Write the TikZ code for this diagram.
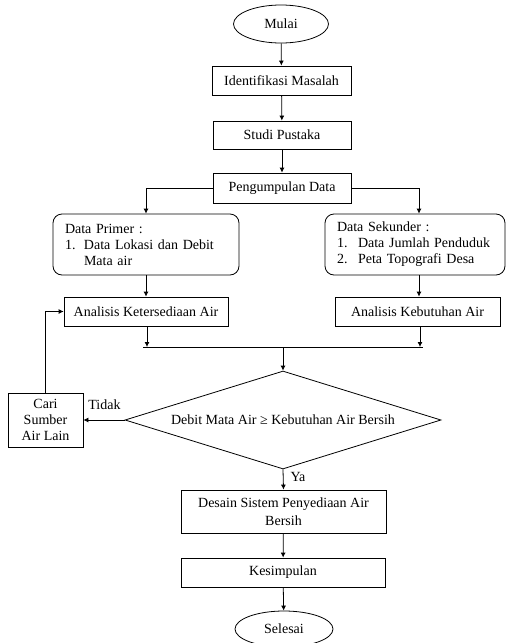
\documentclass[tikz,border=0pt]{standalone}
\usepackage{fontspec}
\setmainfont{Liberation Serif}
\usetikzlibrary{shapes.geometric,arrows.meta,calc}
\begin{document}
\begin{tikzpicture}[x=1pt,y=-1pt,
  every node/.style={font=\fontsize{14}{16}\selectfont},
  line/.style={line width=0.8pt},
  arr/.style={line width=0.8pt,-{Latex[length=5pt,width=5pt]}},
  box/.style={draw,line width=0.8pt,rectangle,inner sep=0pt,align=center},
  rbox/.style={draw,line width=0.8pt,rectangle,rounded corners=9pt,inner ysep=0pt,inner xsep=12pt,align=left,text width=162pt,minimum height=61pt},
  term/.style={draw,line width=0.8pt,ellipse,inner sep=0pt}
]
\useasboundingbox (0,0) rectangle (506,643);
\node[term,minimum width=95pt,minimum height=38pt] (mulai) at (281,24) {Mulai};
\node[box,minimum width=139pt,minimum height=29pt] (ident) at (281.5,80.5) {Identifikasi Masalah};
\node[box,minimum width=138pt,minimum height=28pt] (studi) at (282,135) {Studi Pustaka};
\node[box,minimum width=138pt,minimum height=30pt] (kumpul) at (282,188) {Pengumpulan Data};
\node[rbox] (primer) at (146,244.5) {Data Primer :\\\makebox[19pt][l]{1.}Data Lokasi dan Debit\\\hspace*{19pt}Mata air};
\node[rbox,text width=156pt] (sekunder) at (415,244.5) {Data Sekunder :\\\makebox[21pt][l]{1.}Data Jumlah Penduduk\\\makebox[21pt][l]{2.}Peta Topografi Desa};
\node[box,minimum width=164pt,minimum height=29pt] (ket) at (146,311.5) {Analisis Ketersediaan Air};
\node[box,minimum width=165pt,minimum height=29pt] (keb) at (417.5,311.5) {Analisis Kebutuhan Air};
\coordinate (mleft) at (143,347);
\coordinate (mright) at (423,347);
\coordinate (mmid) at (283,347);
\node[draw,line width=0.8pt,diamond,aspect=3.2,inner sep=0pt,minimum width=316pt,minimum height=98pt] (dec) at (283,420) {Debit Mata Air ≥ Kebutuhan Air Bersih};
\node[box,minimum width=75pt,minimum height=54pt] (cari) at (45.5,420) {Cari\\Sumber\\Air Lain};
\node (tidak) at (104.5,405) {Tidak};
\node[box,minimum width=205pt,minimum height=43pt,font=\fontsize{14}{18}\selectfont] (desain) at (283.5,511.5) {Desain Sistem Penyediaan Air\\Bersih};
\node (ya) at (298,477) {Ya};
\node[box,minimum width=204pt,minimum height=29pt] (kes) at (283,572.5) {Kesimpulan};
\node[term,minimum width=98pt,minimum height=36pt] (selesai) at (284,629) {Selesai};

\draw[arr] (mulai) -- (ident);
\draw[arr] (ident) -- (studi);
\draw[arr] (studi) -- (kumpul);
\draw[arr] (kumpul.west) -| (primer.north);
\draw[arr] (kumpul.east) -| ([xshift=4pt]sekunder.north);
\draw[arr] (primer.south) -- (ket.north);
\draw[arr] ([xshift=4pt]sekunder.south) -- ([xshift=1.5pt]keb.north);
\draw[line] (mleft) -- (mright);
\draw[arr] ([xshift=1pt]ket.south) -- ([xshift=4pt]mleft);
\draw[arr] ([xshift=2.5pt]keb.south) -- ([xshift=-3pt]mright);
\draw[arr] (mmid) -- (dec.north);
\draw[arr] (dec.west) -- (cari.east);
\draw[arr] (cari.north) |- (ket.west);
\draw[arr] (dec.south) -- (desain.north);
\draw[arr] (desain) -- (kes);
\draw[arr] (kes) -- (selesai);
\end{tikzpicture}
\end{document}
